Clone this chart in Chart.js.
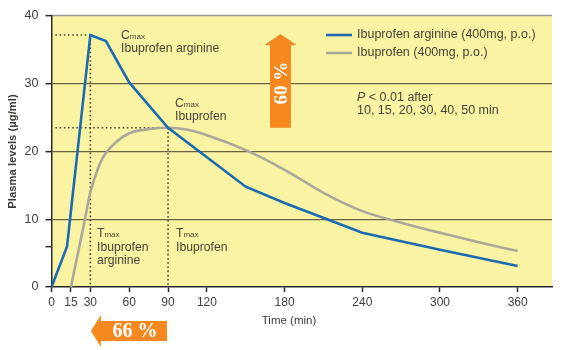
<!DOCTYPE html>
<html>
<head>
<meta charset="utf-8">
<script src="https://cdn.jsdelivr.net/npm/chart.js@4/dist/chart.umd.min.js"></script>
<style>
  html, body { margin: 0; padding: 0; background: #ffffff; }
  #wrap { width: 567px; height: 350px; position: relative; }
</style>
</head>
<body>
<div id="wrap"><canvas id="c" width="567" height="350"></canvas></div>
<script>
// ---- data ----
const xTickValues = [0, 15, 30, 60, 90, 120, 180, 240, 300, 360];
const yTickValues = [0, 6, 10, 20, 30, 40];
const yGridValues = [10, 20, 30];

const seriesNames = ['Ibuprofen arginine (400mg, p.o.)', 'Ibuprofen (400mg, p.o.)'];

const argTimes  = [0, 12, 30, 42, 60, 90, 150, 180, 240, 300, 360];
const argLevels = [0, 6, 37.2, 36.3, 30.2, 23.5, 14.8, 12.4, 8.0, 5.5, 3.1];

const ibuTimes  = [15, 20, 25, 30, 35, 40, 50, 60, 75, 90, 105, 120, 150, 180, 210, 240, 270, 300, 330, 360];
const ibuLevels = [0, 4.6, 9.2, 14.0, 17.0, 19.2, 21.4, 22.7, 23.3, 23.5, 23.2, 22.4, 20.2, 17.3, 13.9, 11.2, 9.5, 8.0, 6.6, 5.3];

// key pharmacokinetic values
const cmaxArg = 37.2, tmaxArg = 30;
const cmaxIbu = 23.5, tmaxIbu = 90;
const cmaxGainLabel = '60 %';
const tmaxGainLabel = '66 %';
const annotationTexts = {
  cmaxArg: ['Ibuprofen arginine'],
  cmaxIbu: ['Ibuprofen'],
  tmaxArg: ['Ibuprofen', 'arginine'],
  tmaxIbu: ['Ibuprofen'],
  pNote: ['P', ' < 0.01 after', '10, 15, 20, 30, 40, 50 min']
};

// ---- styles ----
const BLUE = '#1b6bb3';
const GRAY = '#aca79c';
const YELLOW = '#faf3a3';
const GRID = '#6a6340';
const TXT = '#46453a';
const ORANGE = '#f5891f';
const SANS = '"Liberation Sans", Arial, Helvetica, sans-serif';
const SERIF = '"Liberation Serif", "Times New Roman", serif';

function pts(xs, ys) { return xs.map((x, i) => ({ x: x, y: ys[i] })); }

const decor = {
  id: 'decor',
  beforeDraw(chart) {
    const { ctx, chartArea: a } = chart;
    ctx.save();
    ctx.fillStyle = YELLOW;
    ctx.fillRect(a.left, a.top, a.right - a.left, a.bottom - a.top);
    ctx.strokeStyle = '#9a9a92';
    ctx.lineWidth = 1.5;
    ctx.beginPath();
    ctx.moveTo(a.left, a.top - 0.5);
    ctx.lineTo(a.right, a.top - 0.5);
    ctx.stroke();
    ctx.restore();
  },
  beforeDatasetsDraw(chart) {
    const { ctx } = chart;
    const xs = chart.scales.x, ys = chart.scales.y;
    ctx.save();
    ctx.strokeStyle = '#4a4838';
    ctx.lineWidth = 1.6;
    ctx.setLineDash([1.6, 2.6]);
    const seg = (x1, y1, x2, y2) => {
      ctx.beginPath();
      ctx.moveTo(xs.getPixelForValue(x1), ys.getPixelForValue(y1));
      ctx.lineTo(xs.getPixelForValue(x2), ys.getPixelForValue(y2));
      ctx.stroke();
    };
    seg(3, cmaxArg, tmaxArg, cmaxArg);
    seg(tmaxArg, cmaxArg, tmaxArg, 0);
    seg(3, cmaxIbu, tmaxIbu, cmaxIbu);
    seg(tmaxIbu, cmaxIbu, tmaxIbu, 0);
    ctx.restore();
  },
  afterDatasetsDraw(chart) {
    const { ctx, chartArea: a } = chart;
    const xs = chart.scales.x, ys = chart.scales.y;
    const X = v => xs.getPixelForValue(v), Y = v => ys.getPixelForValue(v);
    ctx.save();

    // --- up arrow (Cmax increase) ---
    const cx = 280.5;
    const tipY = Y(cmaxArg) - 1, baseY = Y(cmaxIbu);
    ctx.fillStyle = ORANGE;
    ctx.beginPath();
    ctx.moveTo(cx, tipY);
    ctx.lineTo(cx + 16, tipY + 11);
    ctx.lineTo(cx + 10.5, tipY + 11);
    ctx.lineTo(cx + 10.5, baseY);
    ctx.lineTo(cx - 10.5, baseY);
    ctx.lineTo(cx - 10.5, tipY + 11);
    ctx.lineTo(cx - 16, tipY + 11);
    ctx.closePath();
    ctx.fill();
    ctx.save();
    ctx.translate(cx + 1, 83);
    ctx.rotate(-Math.PI / 2);
    ctx.fillStyle = '#ffffff';
    ctx.font = 'bold 19px ' + SERIF;
    ctx.textAlign = 'center';
    ctx.textBaseline = 'middle';
    ctx.fillText(cmaxGainLabel, 0, 1);
    ctx.restore();

    // --- left arrow (Tmax reduction) ---
    const tipX = X(tmaxArg) + 0.5, endX = X(tmaxIbu) - 1;
    const cy = 331;
    ctx.fillStyle = ORANGE;
    ctx.beginPath();
    ctx.moveTo(tipX, cy);
    ctx.lineTo(tipX + 10, cy - 16);
    ctx.lineTo(tipX + 10, cy - 10);
    ctx.lineTo(endX, cy - 10);
    ctx.lineTo(endX, cy + 10);
    ctx.lineTo(tipX + 10, cy + 10);
    ctx.lineTo(tipX + 10, cy + 16);
    ctx.closePath();
    ctx.fill();
    ctx.fillStyle = '#ffffff';
    ctx.font = 'bold 20px ' + SERIF;
    ctx.textAlign = 'center';
    ctx.textBaseline = 'middle';
    ctx.fillText(tmaxGainLabel, (tipX + 10 + endX) / 2 + 1, cy + 1);

    // --- text annotations ---
    ctx.fillStyle = TXT;
    ctx.textAlign = 'left';
    ctx.textBaseline = 'alphabetic';
    const FS = 12.2;
    const sub = (letter, x, y) => {
      ctx.font = FS + 'px ' + SANS;
      ctx.fillText(letter, x, y);
      const w = ctx.measureText(letter).width;
      ctx.font = '8px ' + SANS;
      ctx.fillText('max', x + w, y);
    };
    const lines = (arr, x, y, lh) => {
      ctx.font = FS + 'px ' + SANS;
      arr.forEach((t, i) => ctx.fillText(t, x, y + i * lh));
    };
    sub('C', 121, 39);
    lines(annotationTexts.cmaxArg, 121, 51.5, 12.5);
    sub('C', 175, 107);
    lines(annotationTexts.cmaxIbu, 175, 119.5, 12.5);
    sub('T', 97, 237);
    lines(annotationTexts.tmaxArg, 97, 250.5, 13);
    sub('T', 176, 237);
    lines(annotationTexts.tmaxIbu, 176, 250.5, 13);

    // P note
    ctx.font = 'italic 12.5px ' + SANS;
    ctx.fillText(annotationTexts.pNote[0], 357, 101);
    const pw = ctx.measureText(annotationTexts.pNote[0]).width;
    ctx.font = '12.5px ' + SANS;
    ctx.fillText(annotationTexts.pNote[1], 357 + pw, 101);
    ctx.fillText(annotationTexts.pNote[2], 357, 113.5);

    // --- legend ---
    const leg = [[BLUE, seriesNames[0], 35], [GRAY, seriesNames[1], 53]];
    leg.forEach(([col, name, y]) => {
      ctx.strokeStyle = col;
      ctx.lineWidth = 2.6;
      ctx.beginPath();
      ctx.moveTo(326, y);
      ctx.lineTo(352, y);
      ctx.stroke();
      ctx.fillStyle = TXT;
      ctx.font = '12.5px ' + SANS;
      ctx.textBaseline = 'middle';
      ctx.fillText(name, 357, y);
    });

    // axis titles
    ctx.fillStyle = '#3a3a36';
    ctx.font = '11.5px ' + SANS;
    ctx.textAlign = 'center';
    ctx.textBaseline = 'middle';
    ctx.fillText('Time (min)', 289, 321);
    ctx.save();
    ctx.translate(13, (a.top + a.bottom) / 2);
    ctx.rotate(-Math.PI / 2);
    ctx.font = 'bold 11.3px ' + SANS;
    ctx.fillText('Plasma levels (µg/ml)', 0, 0);
    ctx.restore();

    ctx.restore();
  }
};

new Chart(document.getElementById('c'), {
  type: 'line',
  data: {
    datasets: [
      {
        label: seriesNames[0],
        data: pts(argTimes, argLevels),
        borderColor: BLUE,
        borderWidth: 2.6,
        pointRadius: 0,
        tension: 0,
        fill: false
      },
      {
        label: seriesNames[1],
        data: pts(ibuTimes, ibuLevels),
        borderColor: GRAY,
        borderWidth: 2.6,
        pointRadius: 0,
        cubicInterpolationMode: 'monotone',
        fill: false
      }
    ]
  },
  options: {
    responsive: false,
    animation: false,
    events: [],
    layout: { padding: { left: 0, right: 15, top: 16, bottom: 0 } },
    plugins: { legend: { display: false }, tooltip: { enabled: false }, title: { display: false } },
    scales: {
      x: {
        type: 'linear',
        min: 0,
        max: 386.5,
        afterBuildTicks: s => { s.ticks = xTickValues.map(v => ({ value: v })); },
        afterFit: s => { s.height = 63; },
        ticks: { autoSkip: false, maxRotation: 0, color: '#3f3f3a', font: { size: 12, family: SANS }, padding: 3 },
        grid: { drawOnChartArea: false, drawTicks: true, tickLength: 5, tickColor: '#2a2a2a', tickWidth: 1.5 },
        border: { color: '#2a2a2a', width: 1.5 }
      },
      y: {
        min: 0,
        max: 40,
        afterBuildTicks: s => { s.ticks = yTickValues.map(v => ({ value: v })); },
        afterFit: s => { s.width = 51.5; },
        ticks: {
          autoSkip: false,
          color: '#3f3f3a',
          font: { size: 12.5, family: SANS },
          padding: 7,
          callback: v => (v % 10 === 0 ? String(v) : '')
        },
        grid: {
          drawTicks: true,
          tickLength: 6,
          tickWidth: 1.5,
          lineWidth: 1.3,
          tickColor: '#2a2a2a',
          color: c => (c.tick && yGridValues.includes(c.tick.value) ? GRID : 'rgba(0,0,0,0)')
        },
        border: { color: '#2a2a2a', width: 1.5 }
      }
    }
  },
  plugins: [decor]
});
</script>
</body>
</html>
